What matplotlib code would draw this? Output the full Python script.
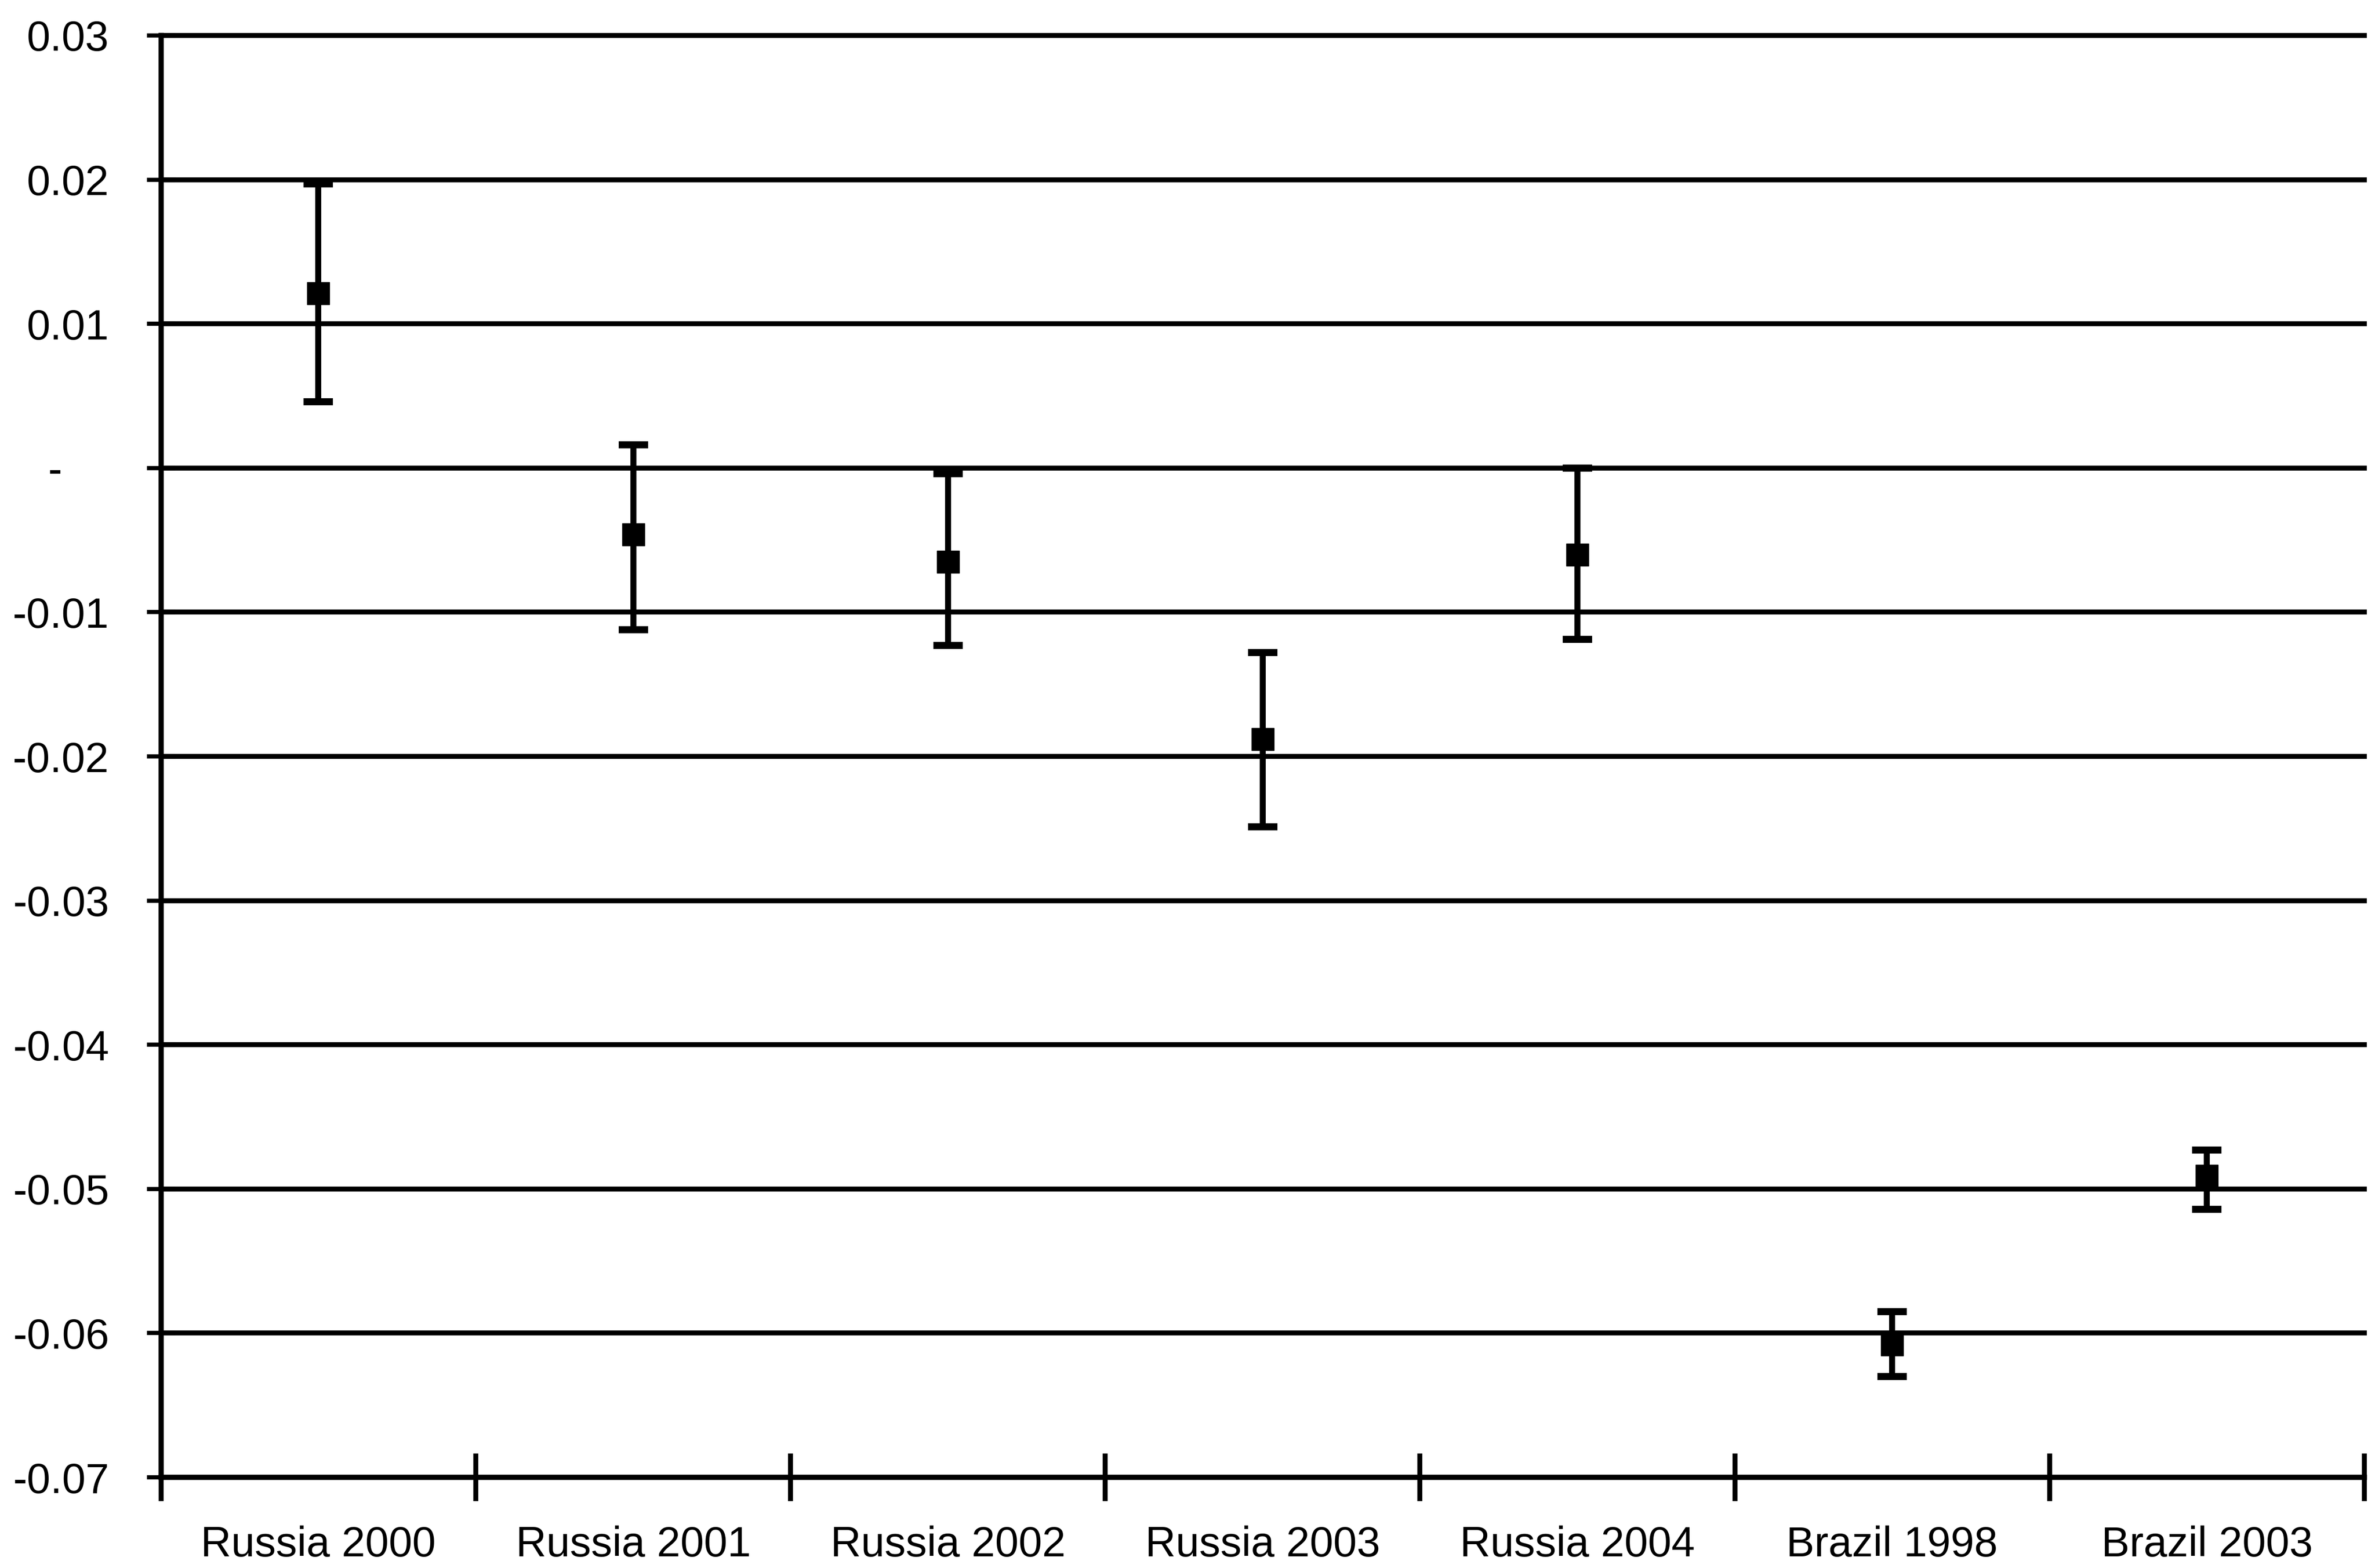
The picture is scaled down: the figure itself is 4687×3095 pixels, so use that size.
import matplotlib
matplotlib.use("Agg")
import matplotlib.pyplot as plt
import numpy as np

categories = ["Russia 2000", "Russia 2001", "Russia 2002", "Russia 2003",
              "Russia 2004", "Brazil 1998", "Brazil 2003"]
estimate = [0.0121, -0.0046, -0.0065, -0.0188, -0.0060, -0.0608, -0.0491]
upper = [0.0197, 0.0016, -0.0004, -0.0128, 0.0000, -0.0585, -0.0473]
lower = [0.0046, -0.0112, -0.0123, -0.0249, -0.0119, -0.0630, -0.0514]
ytick_values = [0.03, 0.02, 0.01, 0.0, -0.01, -0.02, -0.03, -0.04, -0.05, -0.06, -0.07]
ytick_labels = ["0.03", "0.02", "0.01", "-    ", "-0.01", "-0.02", "-0.03",
                "-0.04", "-0.05", "-0.06", "-0.07"]

plt.rcParams['font.family'] = ['Liberation Sans', 'DejaVu Sans']

fig = plt.figure(figsize=(46.87, 30.95), dpi=100)
ax = fig.add_axes([0.0678, 0.0578, 0.9955 - 0.0678, 0.9774 - 0.0578])

x = np.arange(len(categories))
est = np.array(estimate)
yerr = np.vstack([est - np.array(lower), np.array(upper) - est])

ax.errorbar(x, est, yerr=yerr, fmt='s', color='black', ecolor='black',
            markersize=31, elinewidth=8.5, capsize=21, capthick=10, zorder=5)

ax.set_xlim(-0.5, len(categories) - 0.5)
ax.set_ylim(-0.07, 0.03)

# gridlines
ax.set_yticks(ytick_values)
ax.set_yticklabels(ytick_labels)
ax.yaxis.grid(True, color='black', linewidth=7)
ax.set_axisbelow(True)
for gl in ax.get_ygridlines():
    gl.set_clip_on(False)

# x ticks at boundaries, labels at centers
ax.set_xticks(np.arange(-0.5, len(categories), 1.0))
ax.set_xticklabels([])
ax.set_xticks(x, minor=True)
ax.set_xticklabels(categories, minor=True)
ax.tick_params(axis='x', which='major', direction='inout', length=68, width=7)
ax.tick_params(axis='x', which='minor', length=0, pad=68, labelsize=60)
ax.tick_params(axis='y', which='major', direction='inout', length=40, width=6,
               pad=54, labelsize=60)

for s in ['top', 'right']:
    ax.spines[s].set_visible(False)
ax.spines['left'].set_linewidth(7.5)
ax.spines['bottom'].set_linewidth(7.5)

fig.savefig("out.png", dpi=100, facecolor='white')
